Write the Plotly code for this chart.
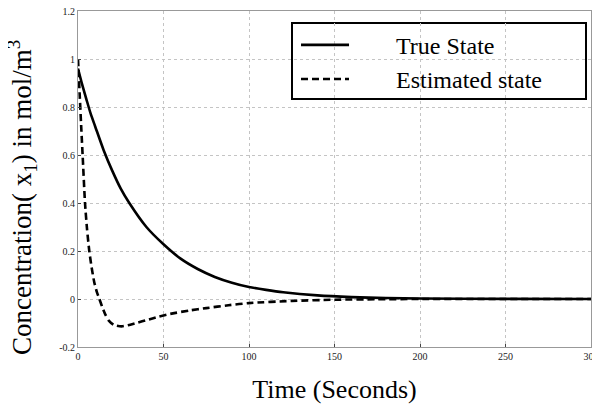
import plotly.graph_objects as go

# Data
t_true = [0, 2, 5, 7.5, 10, 15, 20, 25, 30, 40, 50, 60, 70, 80, 90, 100, 110, 120, 140, 160, 180, 200, 250, 300]
x_true = [0.96, 0.905, 0.83, 0.77, 0.72, 0.62, 0.535, 0.46, 0.40, 0.30, 0.228, 0.168, 0.125, 0.092, 0.068, 0.05, 0.038, 0.028, 0.015, 0.008, 0.004, 0.002, 0.0005, 0.0]

t_est = [0, 1, 2, 2.7, 4.1, 5.3, 6.6, 8, 9.5, 11, 12.5, 14, 16, 18, 21, 25.5, 30, 35, 40, 47, 54, 65, 75, 88, 100, 125, 150, 175, 200, 250, 300]
x_est = [1.0, 0.85, 0.7, 0.6, 0.4, 0.29, 0.2, 0.13, 0.07, 0.03, 0.0, -0.03, -0.065, -0.09, -0.108, -0.114, -0.108, -0.098, -0.088, -0.074, -0.062, -0.048, -0.038, -0.026, -0.017, -0.008, -0.003, -0.001, 0.0, 0.0, 0.0]

x_ticks = [0, 50, 100, 150, 200, 250, 300]
y_ticks = [-0.2, 0, 0.2, 0.4, 0.6, 0.8, 1, 1.2]
y_tick_labels = ["-0.2", "0", "0.2", "0.4", "0.6", "0.8", "1", "1.2"]

serif = "Liberation Serif"
pad = "\u00a0" * 7

fig = go.Figure()
fig.add_trace(go.Scatter(x=t_true, y=x_true, mode="lines", name=pad + "True State",
                         line=dict(color="black", width=2.6, shape="spline", smoothing=0.6)))
fig.add_trace(go.Scatter(x=t_est, y=x_est, mode="lines", name=pad + "Estimated state",
                         line=dict(color="black", width=2.6, dash="7px,4px", shape="spline", smoothing=0.6)))

# page body has an 8px default margin, so the figure is 592x401 placed at (8,8)
fig.update_layout(
    width=592, height=401,
    margin=dict(l=70, r=9, t=3, b=62),
    paper_bgcolor="white", plot_bgcolor="white",
    font=dict(family=serif, color="black"),
    showlegend=True,
    legend=dict(x=0.425, y=0.965, xanchor="left", yanchor="top",
                bgcolor="rgba(0,0,0,0)", borderwidth=0,
                font=dict(family=serif, size=24, color="black"),
                itemwidth=48, tracegroupgap=0),
    shapes=[dict(type="rect", xref="paper", yref="paper",
                 x0=(292 - 78) / 513, x1=(586 - 78) / 513,
                 y0=(347 - 99) / 336, y1=(347 - 23) / 336,
                 line=dict(color="black", width=2), fillcolor="white", layer="below")],
    annotations=[dict(text="Concentration( x<sub>1</sub>) in mol/m<sup>3</sup>",
                      xref="paper", yref="paper", x=(14 - 70) / 513, y=(339 - 190) / 336,
                      xanchor="center", yanchor="middle", textangle=-90, showarrow=False,
                      font=dict(family=serif, size=27, color="black"))],
)

fig.update_xaxes(range=[0, 300], tickvals=x_ticks, ticks="inside", ticklen=3, automargin=False,
                 showline=True, linecolor="#999", linewidth=1, mirror=True,
                 showgrid=True, gridcolor="#c4c4c4", griddash="dot", gridwidth=1,
                 zeroline=False, tickfont=dict(family=serif, size=10, color="#222"),
                 ticklabeloverflow="allow",
                 title=dict(text="Time (Seconds)", font=dict(family=serif, size=26), standoff=18))
fig.update_yaxes(range=[-0.2, 1.2], tickvals=y_ticks, ticktext=y_tick_labels, ticks="inside", ticklen=3, automargin=False,
                 showline=True, linecolor="#999", linewidth=1, mirror=True,
                 showgrid=True, gridcolor="#c4c4c4", griddash="dot", gridwidth=1,
                 zeroline=False, tickfont=dict(family=serif, size=10, color="#222"),
                 ticklabeloverflow="allow")

fig.write_html("out.html")
